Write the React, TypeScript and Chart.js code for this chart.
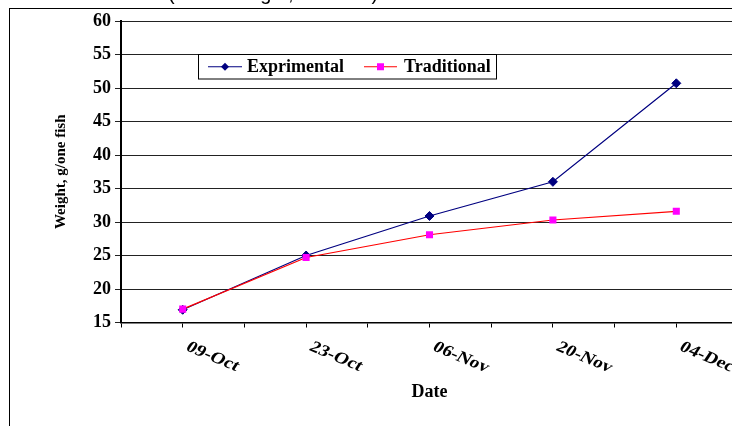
import React, { useEffect, useRef } from 'react';
import { Chart, registerables } from 'chart.js';

Chart.register(...registerables);

// Sampling dates and their offset in days from the first weighing
const dateLabels = ['09-Oct', '23-Oct', '06-Nov', '20-Nov', '04-Dec'];
const dayOffsets = [0, 14, 28, 42, 56];

// Mean weight per fish (g)
const experimental = [16.9, 25.0, 30.9, 36.0, 50.7];
const traditional = [17.0, 24.7, 28.1, 30.3, 31.6];

const seriesNames = ['Exprimental', 'Traditional'];
const chartTitle = '(Mean weight, 2009/10)';
const yAxisTitle = 'Weight, g/one fish';
const xAxisTitle = 'Date';

const yMin = 15;
const yMax = 60;
const yStep = 5;
const dayStep = 7;

const SERIF = '"Liberation Serif", "Times New Roman", serif';
const NAVY = '#000080';
const RED = '#FF0000';
const MAGENTA = '#FF00FF';

function diamond(ctx: CanvasRenderingContext2D, x: number, y: number, r: number) {
  ctx.beginPath();
  ctx.moveTo(x, y - r);
  ctx.lineTo(x + r, y);
  ctx.lineTo(x, y + r);
  ctx.lineTo(x - r, y);
  ctx.closePath();
  ctx.fill();
}

const framePlugin = {
  id: 'frame',
  beforeDraw(chart: any) {
    const { ctx, width, height } = chart;
    ctx.save();
    ctx.fillStyle = '#ffffff';
    ctx.fillRect(0, 0, width, height);
    ctx.strokeStyle = '#000000';
    ctx.lineWidth = 1;
    ctx.strokeRect(9.5, 8.5, width + 20, height + 20);
    // heading sits above the frame, mostly outside the canvas
    ctx.fillStyle = '#000000';
    ctx.font = '20px "Liberation Sans", Arial, sans-serif';
    ctx.textAlign = 'left';
    ctx.textBaseline = 'alphabetic';
    ctx.fillText(chartTitle, 168, 0);
    ctx.restore();
  },
};

// Slanted date labels under each sampling tick, widened slightly
const dateLabelPlugin = {
  id: 'dateLabels',
  afterDraw(chart: any) {
    const { ctx } = chart;
    const xs = chart.scales.x;
    ctx.save();
    ctx.fillStyle = '#000000';
    ctx.font = `bold 16px ${SERIF}`;
    ctx.textAlign = 'left';
    ctx.textBaseline = 'middle';
    dateLabels.forEach((label, i) => {
      const px = xs.getPixelForValue(dayOffsets[i]);
      ctx.save();
      ctx.translate(px + 4.5, xs.top + 23.5);
      ctx.scale(1.25, 1);
      ctx.rotate((28 * Math.PI) / 180);
      ctx.fillText(label, 0, 0);
      ctx.restore();
    });
    ctx.restore();
  },
};

const legendPlugin = {
  id: 'boxLegend',
  afterDraw(chart: any) {
    const { ctx } = chart;
    const box = { x: 198.5, y: 54.5, w: 298, h: 24.5 };
    ctx.save();
    ctx.fillStyle = '#ffffff';
    ctx.fillRect(box.x, box.y, box.w, box.h);
    ctx.strokeStyle = '#000000';
    ctx.lineWidth = 1;
    ctx.strokeRect(box.x, box.y, box.w, box.h);

    const cy = box.y + box.h / 2;
    const items = [
      { name: seriesNames[0], line: NAVY, x0: 208, x1: 242, text: 247, kind: 'diamond' },
      { name: seriesNames[1], line: RED, x0: 364, x1: 397, text: 404, kind: 'square' },
    ];
    items.forEach((it) => {
      ctx.strokeStyle = it.line;
      ctx.lineWidth = 1.2;
      ctx.beginPath();
      ctx.moveTo(it.x0, cy);
      ctx.lineTo(it.x1, cy);
      ctx.stroke();
      const mx = (it.x0 + it.x1) / 2;
      if (it.kind === 'diamond') {
        ctx.fillStyle = NAVY;
        diamond(ctx, mx, cy, 4);
      } else {
        ctx.fillStyle = MAGENTA;
        ctx.fillRect(mx - 3.5, cy - 3.5, 7, 7);
      }
      ctx.fillStyle = '#000000';
      ctx.font = `bold 18px ${SERIF}`;
      ctx.textAlign = 'left';
      ctx.textBaseline = 'middle';
      ctx.fillText(it.name, it.text, cy + 1);
    });
    ctx.restore();
  },
};

export default function App() {
  const canvasRef = useRef<HTMLCanvasElement | null>(null);

  useEffect(() => {
    document.body.style.margin = '0';
    document.body.style.overflow = 'hidden';
    const canvas = canvasRef.current;
    if (!canvas) return;

    const chart = new Chart(canvas, {
      type: 'line',
      data: {
        datasets: [
          {
            label: seriesNames[0],
            data: dayOffsets.map((d, i) => ({ x: d, y: experimental[i] })),
            borderColor: NAVY,
            backgroundColor: NAVY,
            borderWidth: 1.2,
            pointStyle: 'rectRot',
            pointRadius: 4.5,
            pointBorderWidth: 1,
            pointBorderColor: NAVY,
            pointBackgroundColor: NAVY,
            tension: 0,
            order: 1,
          },
          {
            label: seriesNames[1],
            data: dayOffsets.map((d, i) => ({ x: d, y: traditional[i] })),
            borderColor: RED,
            backgroundColor: MAGENTA,
            borderWidth: 1.2,
            pointStyle: 'rect',
            pointRadius: 5,
            pointBorderWidth: 0,
            pointBorderColor: MAGENTA,
            pointBackgroundColor: MAGENTA,
            tension: 0,
            order: 0,
          },
        ],
      },
      options: {
        responsive: false,
        animation: false,
        devicePixelRatio: 1,
        layout: { padding: { top: 21, left: 0, right: 7, bottom: 0 } },
        plugins: {
          legend: { display: false },
          title: { display: false },
          tooltip: { enabled: false },
        },
        scales: {
          x: {
            type: 'linear',
            min: dayOffsets[0] - dayStep,
            max: dayOffsets[dayOffsets.length - 1] + dayStep,
            afterFit: (scale: any) => {
              scale.height = 103.5;
            },
            ticks: { display: false, stepSize: dayStep },
            grid: {
              drawOnChartArea: false,
              drawTicks: true,
              tickLength: 5,
              color: '#000000',
            },
            border: { display: true, color: '#000000', width: 1.5 },
            title: {
              display: true,
              text: xAxisTitle,
              color: '#000000',
              font: { family: SERIF, size: 18, weight: 'bold' },
              padding: { top: 0, bottom: 23 },
            },
          },
          y: {
            min: yMin,
            max: yMax,
            afterFit: (scale: any) => {
              scale.width = 121;
            },
            ticks: {
              stepSize: yStep,
              color: '#000000',
              padding: 4,
              font: { family: SERIF, size: 18, weight: 'bold' },
            },
            grid: {
              color: '#222222',
              drawTicks: true,
              tickLength: 6,
            },
            border: { display: true, color: '#000000', width: 2 },
            title: {
              display: true,
              text: yAxisTitle,
              color: '#000000',
              font: { family: SERIF, size: 15, weight: 'bold' },
              padding: { top: 52, bottom: 0 },
            },
          },
        },
      },
      plugins: [framePlugin, legendPlugin, dateLabelPlugin],
    } as any);

    return () => chart.destroy();
  }, []);

  return (
    <div style={{ width: 732, height: 426, overflow: 'hidden', position: 'relative' }}>
      <canvas ref={canvasRef} width={745} height={426} style={{ display: 'block' }} />
    </div>
  );
}
